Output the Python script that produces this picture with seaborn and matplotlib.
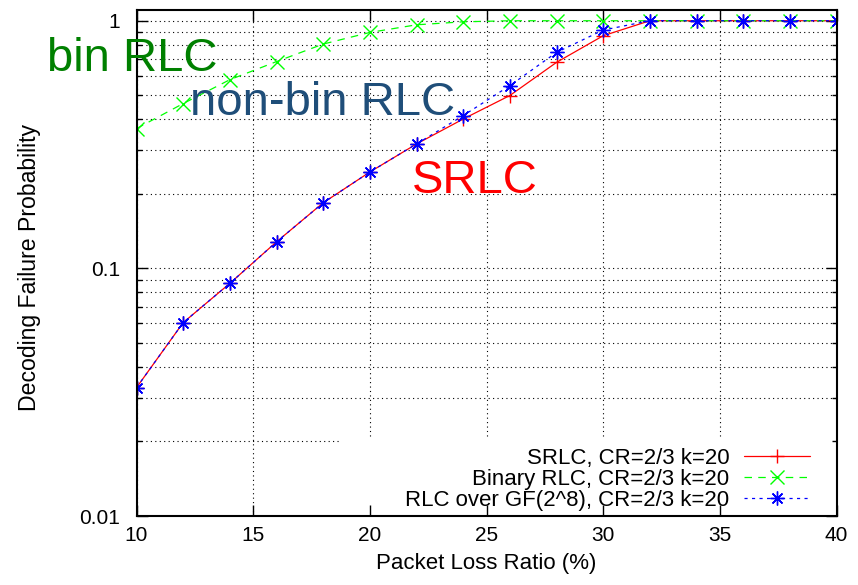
import numpy as np
import matplotlib
matplotlib.use("Agg")
import matplotlib.pyplot as plt
import seaborn as sns
from matplotlib.ticker import FixedLocator, FixedFormatter, LogLocator, NullFormatter
from matplotlib.path import Path

# ---------------- data ----------------
loss_ratio = [10, 12, 14, 16, 18, 20, 22, 24, 26, 28, 30, 32, 34, 36, 38, 40]
srlc = [0.033, 0.0604, 0.087, 0.128, 0.184, 0.245, 0.318, 0.401, 0.499, 0.679, 0.870,
        1.0, 1.0, 1.0, 1.0, 1.0]
binary_rlc = [0.367, 0.463, 0.578, 0.684, 0.805, 0.897, 0.963, 0.99, 1.0, 1.0, 1.0,
              1.0, 1.0, 1.0, 1.0, 1.0]
gf256_rlc = [0.033, 0.0604, 0.087, 0.128, 0.184, 0.245, 0.318, 0.414, 0.547, 0.745, 0.917,
             1.0, 1.0, 1.0, 1.0, 1.0]
series_labels = ["SRLC, CR=2/3 k=20", "Binary RLC, CR=2/3 k=20",
                 "RLC over GF(2^8), CR=2/3 k=20"]
x_ticks = [10, 15, 20, 25, 30, 35, 40]
y_ticks = [0.01, 0.1, 1]
y_tick_labels = ["0.01", "0.1", "1"]

# ---------------- style ----------------
sns.set_style("ticks")
plt.rcParams["font.family"] = ["Liberation Sans", "DejaVu Sans"]
plt.rcParams["text.color"] = "black"
plt.rcParams["axes.labelcolor"] = "black"
plt.rcParams["xtick.color"] = "black"
plt.rcParams["ytick.color"] = "black"
plt.rcParams["xtick.labelcolor"] = "black"
plt.rcParams["ytick.labelcolor"] = "black"

fig = plt.figure(figsize=(8.58, 5.85), dpi=100)
ax = fig.add_axes([0.1591, 0.1179, 0.8159, 0.865])

series = [srlc, binary_rlc, gf256_rlc]
colors = ["#ff0000", "#00ff00", "#0000ff"]
styles = ["-", (0, (6, 5)), (0, (2.5, 3.5))]
markers = ["+", "x", (8, 2, 0)]

for vals, lab, col, ls, mk in zip(series, series_labels, colors, styles, markers):
    sns.lineplot(x=loss_ratio, y=vals, ax=ax, color=col, linestyle=ls, linewidth=0.9,
                 marker=mk, markersize=10, markeredgewidth=1.0, markeredgecolor=col,
                 markerfacecolor=col, label=lab, legend=False)

ax.set_yscale("log")
ax.set_xlim(10, 40)
ax.set_ylim(0.01, 1.105)
ax.xaxis.set_major_locator(FixedLocator(x_ticks))
ax.yaxis.set_major_locator(FixedLocator(y_ticks))
ax.yaxis.set_major_formatter(FixedFormatter(y_tick_labels))
ax.yaxis.set_minor_locator(LogLocator(base=10, subs=np.arange(2, 10)))
ax.yaxis.set_minor_formatter(NullFormatter())

ax.tick_params(which="both", direction="in", top=True, right=True, width=1.0,
               color="black", labelcolor="black", labelsize=15)
ax.tick_params(which="major", length=7.7)
ax.tick_params(which="minor", length=3.8)
ax.tick_params(axis="x", pad=7)
ax.tick_params(axis="y", pad=12)

grid_kw = dict(color="black", linestyle=(0, (1, 3)), linewidth=0.8)
ax.grid(True, which="major", axis="x", **grid_kw)
ax.grid(True, which="both", axis="y", **grid_kw)

for s in ax.spines.values():
    s.set_visible(True)
    s.set_linewidth(1.5)
    s.set_color("black")

ax.set_xlabel("Packet Loss Ratio (%)", fontsize=16, labelpad=6, color="black")
ax.set_ylabel("Decoding Failure Probability", fontsize=16.6, color="black")
ax.yaxis.set_label_coords(-0.137, 0.491)

# annotations
ax.text(6.15, 0.626, "bin RLC", color="#008000", fontsize=34, va="baseline",
        ha="left", clip_on=False)
ax.text(12.29, 0.416, "non-bin RLC", color="#1f4e79", fontsize=34, va="baseline",
        ha="left", clip_on=False)
ax.text(21.8, 0.202, "SRLC", color="#ff0000", fontsize=34, va="baseline",
        ha="left", clip_on=False)

handles, labels = ax.get_legend_handles_labels()
leg = ax.legend(handles, labels, loc="lower right", bbox_to_anchor=(0.962, 0.01),
                markerfirst=False, frameon=False, fontsize=16, handlelength=2.95,
                handletextpad=0.68, labelspacing=0.0, borderpad=0, borderaxespad=0,
                numpoints=1)
for t in leg.get_texts():
    t.set_color("black")

# hide grid behind legend area (gnuplot-like opaque key)
fig.canvas.draw()
lx, ly = 0.291, 0.154
clip = Path([(0, 0), (lx, 0), (lx, ly), (1, ly), (1, 1), (0, 1), (0, 0)], closed=True)
for axis in (ax.xaxis, ax.yaxis):
    for t in axis.get_major_ticks() + axis.get_minor_ticks():
        t.gridline.set_clip_path(clip, ax.transAxes)

fig.savefig("out.png", dpi=100)
